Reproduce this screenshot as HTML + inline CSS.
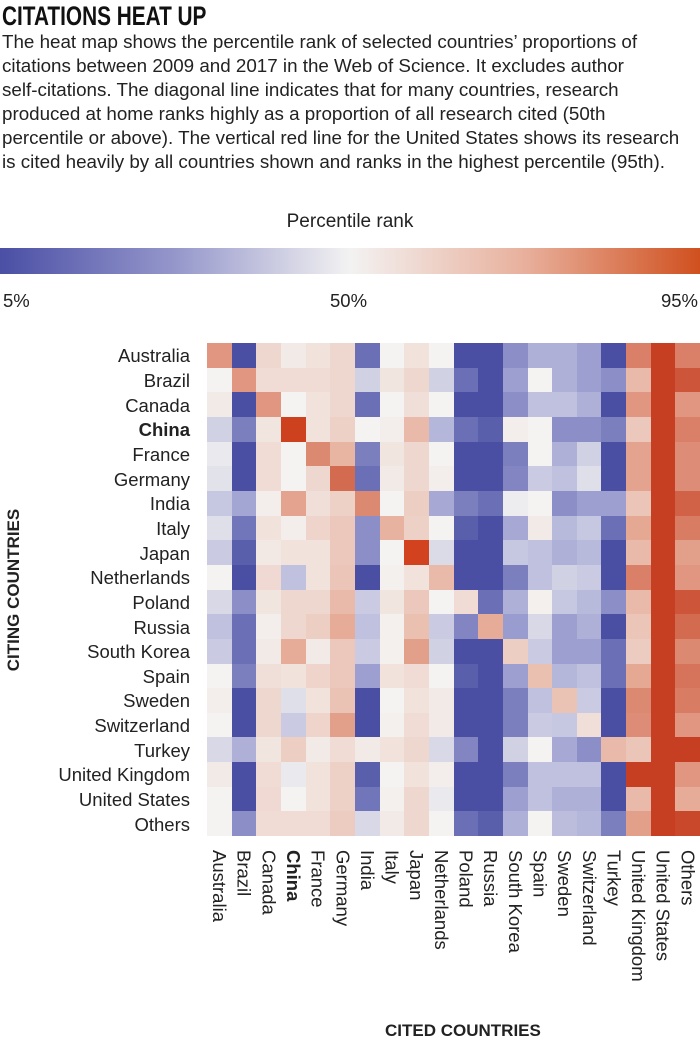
<!DOCTYPE html>
<html><head><meta charset="utf-8"><style>
body{margin:0;width:700px;height:1044px;background:#fff;font-family:"Liberation Sans",sans-serif;color:#222;position:relative;overflow:hidden}
.t{position:absolute;white-space:nowrap}
#title{left:2px;top:1px;font-family:"Liberation Sans Narrow","Liberation Sans",sans-serif;font-weight:bold;font-size:27px;color:#111;transform:scaleX(0.77);transform-origin:0 0}
#desc{left:2px;top:30px;font-size:18.8px;line-height:24px;color:#222}
#bar{position:absolute;left:0;top:248px;width:700px;height:26px;background:linear-gradient(to right,#4b4fa5 0%,#9597cb 25%,#f3f2f2 50%,#e8b09c 75%,#d0501f 100%)}
.rl{position:absolute;right:510px;font-size:18.5px;text-align:right;white-space:nowrap;transform:translateY(-50%)}
.cl{position:absolute;top:850px;font-size:18.5px;white-space:nowrap;writing-mode:vertical-rl}
.c{position:absolute;width:25px;height:25px}
</style></head><body>
<div class="t" id="title">CITATIONS HEAT UP</div>
<div class="t" id="desc">The heat map shows the percentile rank of selected countries’ proportions of<br>citations between 2009 and 2017 in the Web of Science. It excludes author<br>self-citations. The diagonal line indicates that for many countries, research<br>produced at home ranks highly as a proportion of all research cited (50th<br>percentile or above). The vertical red line for the United States shows its research<br>is cited heavily by all countries shown and ranks in the highest percentile (95th).</div>
<div class="t" style="left:0;width:700px;text-align:center;top:211px;font-size:19px">Percentile rank</div>
<div id="bar"></div>
<div class="t" style="left:3px;top:290px;font-size:18.5px">5%</div>
<div class="t" style="left:330px;top:290px;font-size:18.5px">50%</div>
<div class="t" style="right:2px;top:290px;font-size:18.5px">95%</div>
<div class="t" style="left:14px;top:590px;font-weight:bold;font-size:17px;transform:translate(-50%,-50%) rotate(-90deg)">CITING COUNTRIES</div>
<div class="t" style="left:385px;top:1021px;font-weight:bold;font-size:17px">CITED COUNTRIES</div>
<div id="g"></div>
<script>
var names=["Australia","Brazil","Canada","China","France","Germany","India","Italy","Japan","Netherlands","Poland","Russia","South Korea","Spain","Sweden","Switzerland","Turkey","United Kingdom","United States","Others"];
var D=[
[3,-5,1,0.3,0.6,1,-4,0,0.6,0,-5,-5,-3,-2,-2,-2.5,-5,3.5,5,3.5],
[0,3,0.8,0.8,0.8,1,-1,0.5,1,-1,-4,-5,-2.5,0,-2,-2.5,-3,2,5,4.5],
[0.3,-5,3,0,0.6,1,-4,0,0.7,0,-5,-5,-3,-1.5,-1.5,-2,-5,3,5,3],
[-1,-3.5,0.5,5.2,0.6,1.2,0,0.2,2,-1.8,-4,-4.5,0.2,0,-3,-3,-3.5,1.5,5,3.5],
[-0.3,-5,0.8,0,3.3,2.2,-3.5,0.5,1,0,-5,-5,-3.5,0,-2,-1,-5,2.7,5,3.2],
[-0.5,-5,0.8,0,1,4,-4,0.3,1,0.2,-5,-5,-3.3,-1.2,-1.5,-0.6,-5,2.7,5,3.2],
[-1.3,-2.3,0.2,2.7,0.7,1.2,3.3,0,1.3,-2.2,-3.5,-4,-0.2,0,-3,-2.5,-2.5,1.6,5,4.2],
[-0.6,-3.8,0.6,0.2,1.1,1.5,-3,2.3,1.2,0,-4.5,-5,-2.2,0.3,-1.7,-1.3,-4,2.6,5,3.6],
[-1.2,-4.5,0.4,0.6,0.6,1.5,-3,0,5.3,-0.7,-5,-5,-1.3,-1.5,-2,-1.7,-5,2,5,2.8],
[0,-5,0.9,-1.5,0.6,1.6,-5,0.1,0.6,2,-5,-5,-3.5,-1.5,-1,-1.2,-5,3.5,5,3],
[-0.8,-3,0.5,1,1,2,-1.2,0.5,1.5,0,0.8,-4,-2,0.1,-1.3,-1.7,-3,2,5,4.5],
[-1.5,-4,0.2,1,1.3,2.5,-1.5,0.1,1.8,-1.2,-3.3,2.5,-2.6,-0.8,-2.5,-2,-5,1.6,5,4],
[-1.2,-4,0.3,2.5,0.3,1.5,-1.2,0.1,2.8,-1,-5,-5,1.3,-1.2,-2.5,-2.5,-4,1.4,5,3.3],
[0,-3.5,0.7,0.6,1.1,1.5,-2.5,0.6,0.8,0,-4.5,-5,-2.5,1.8,-1.8,-1.5,-4,2.6,5,3.8],
[0.2,-5,1,-0.6,0.6,1.7,-5,0,0.6,0.3,-5,-5,-3.5,-1.5,1.7,-1.2,-5,3.3,5,3.6],
[0,-5,1,-1.2,1.1,2.8,-5,0.1,0.8,0.3,-5,-5,-3.5,-1.2,-1.3,0.7,-5,3.2,5,3],
[-0.8,-2,0.5,1.3,0.3,0.8,0.3,0.6,1,-0.8,-3.3,-5,-1,0,-2.2,-3,2,1.6,5,5],
[0.3,-5,0.8,-0.3,0.6,1.2,-4.5,0,0.6,0.2,-5,-5,-3.5,-1.5,-1.5,-1.5,-5,5,5,3],
[0,-5,0.9,0,0.6,1.2,-3.8,0.1,1,-0.3,-5,-5,-2.5,-1.5,-2,-2,-5,2,5,2.5],
[0,-3,0.8,0.8,0.8,1.4,-0.8,0.3,1,0,-4,-4.5,-2,0,-1.6,-1.8,-3.5,2.8,5,4.8]];
var S=[[-5,[74,79,163]],[-2.5,[156,159,208]],[0,[244,243,242]],[2.5,[230,172,152]],[5,[199,63,34]],[5.3,[210,66,30]]];
function col(v){if(v<=-5)return S[0][1];for(var i=0;i<S.length-1;i++){var a=S[i],b=S[i+1];if(v<=b[0]){var t=(v-a[0])/(b[0]-a[0]);return a[1].map(function(x,k){return Math.round(x+(b[1][k]-x)*t)})}}return S[S.length-1][1];}
var h="",x0=207,y0=343,w=24.65;
for(var r=0;r<20;r++){for(var c=0;c<20;c++){var k=col(D[r][c]);h+='<div class="c" style="left:'+(x0+c*w).toFixed(1)+'px;top:'+(y0+r*w).toFixed(1)+'px;background:rgb('+k.join(",")+')"></div>';}
h+='<div class="rl" style="top:'+(y0+r*w+w/2+1).toFixed(1)+'px'+(r==3?';font-weight:bold':'')+'">'+names[r]+'</div>';
h+='<div class="cl" style="left:'+(x0+r*w+1).toFixed(1)+'px'+(r==3?';font-weight:bold':'')+'">'+names[r]+'</div>';}
document.getElementById("g").innerHTML=h;
</script>
</body></html>
